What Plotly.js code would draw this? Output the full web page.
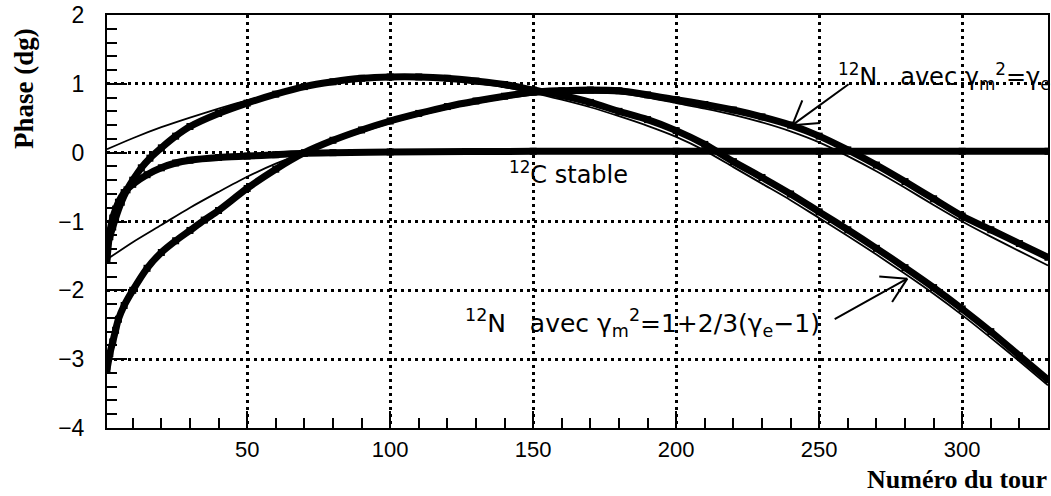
<!DOCTYPE html>
<html>
<head>
<meta charset="utf-8">
<script src="https://cdn.plot.ly/plotly-3.0.1.min.js"></script>
<style>html,body{margin:0;padding:0;background:#fff;}#chart{width:1051px;height:496px;}</style>
</head>
<body>
<div id="chart"></div>
<script>
// 12N with gamma_m^2 = 1 + 2/3(gamma_e - 1): simulation (thick) and fit (thin)
const xA = [1,2,3,4,6,8,10,13,16,20,25,30,40,50,60,70,80,90,100,110,120,130,140,150,160,170,180,190,200,210,220,230,240,250,260,270,280,290,300,310,320,330];
const yA = [-1.35,-1.22,-1.08,-0.95,-0.72,-0.54,-0.4,-0.22,-0.08,0.07,0.24,0.38,0.57,0.72,0.85,0.96,1.03,1.08,1.1,1.1,1.08,1.04,0.99,0.91,0.83,0.73,0.6,0.48,0.32,0.12,-0.13,-0.36,-0.6,-0.86,-1.12,-1.39,-1.67,-1.96,-2.27,-2.6,-2.95,-3.3];
const xAfit = [1,10,20,30,40,50,60,70,80,90,100,110,120,130,140,150,160,170,180,190,200,210,220,230,240,250,260,270,280,290,300,310,320,330];
const yAfit = [0.05,0.21,0.37,0.51,0.64,0.76,0.86,0.95,1.02,1.07,1.09,1.09,1.06,1.01,0.95,0.87,0.77,0.66,0.53,0.39,0.23,0.03,-0.21,-0.45,-0.69,-0.95,-1.21,-1.48,-1.76,-2.05,-2.36,-2.69,-3.03,-3.38];

// 12N with gamma_m^2 = gamma_e: simulation (thick) and fit (thin)
const xB = [1,2,3,4,5,7,10,15,20,25,30,35,40,50,60,70,80,90,100,110,120,130,140,150,160,170,180,190,200,210,220,230,240,250,260,270,280,290,300,310,320,330];
const yB = [-3.15,-2.92,-2.75,-2.58,-2.42,-2.22,-2.0,-1.68,-1.45,-1.28,-1.13,-0.98,-0.84,-0.52,-0.24,0.0,0.18,0.33,0.46,0.57,0.67,0.75,0.82,0.88,0.9,0.91,0.9,0.84,0.77,0.7,0.62,0.52,0.4,0.24,0.04,-0.18,-0.42,-0.67,-0.92,-1.12,-1.32,-1.52];
const xBfit = [1,10,20,30,40,50,60,70,80,90,100,110,120,130,140,150,160,170,180,190,200,210,220,230,240,250,260,270,280,290,300,310,320,330];
const yBfit = [-1.55,-1.3,-1.05,-0.8,-0.57,-0.35,-0.16,0.0,0.16,0.3,0.43,0.54,0.64,0.72,0.79,0.84,0.86,0.87,0.86,0.8,0.72,0.64,0.55,0.44,0.31,0.15,-0.05,-0.27,-0.51,-0.76,-1.0,-1.22,-1.43,-1.64];

// 12C stable
const xC = [1,2,3,4,5,7,10,15,20,25,30,40,50,60,70,80,100,150,200,250,300,330];
const yC = [-1.55,-1.15,-0.95,-0.82,-0.72,-0.58,-0.46,-0.32,-0.22,-0.15,-0.11,-0.07,-0.05,-0.03,-0.01,0.0,0.01,0.02,0.02,0.02,0.02,0.02];

const xTicks = [50,100,150,200,250,300];
const yTicks = [-4,-3,-2,-1,0,1,2];
const yTickText = ['\u22124','\u22123','\u22122','\u22121','0','1','2'];

const labelC = '<sup>12</sup>C stable';
const labelB = '<sup>12</sup>N\u00a0\u00a0\u00a0avec \u03b3<sub>m</sub><sup>2</sup>=\u03b3<sub>e</sub>';
const labelA = '<sup>12</sup>N\u00a0\u00a0\u00a0avec \u03b3<sub>m</sub><sup>2</sup>=1+2/3(\u03b3<sub>e</sub>\u22121)';
const xTitle = 'Numéro du tour';
const yTitle = 'Phase (dg)';

const thick = (x, y) => ({x: x, y: y, type: 'scatter', mode: 'lines+markers',
  line: {color: '#000', width: 7, shape: 'spline', smoothing: 0.8},
  marker: {symbol: 'square', size: 7, color: '#000'}, cliponaxis: true, hoverinfo: 'skip'});
const thin = (x, y) => ({x: x, y: y, type: 'scatter', mode: 'lines',
  line: {color: '#000', width: 1.8, shape: 'spline', smoothing: 0.8}, hoverinfo: 'skip'});

const data = [thin(xAfit, yAfit), thin(xBfit, yBfit), thick(xC, yC), thick(xA, yA), thick(xB, yB)];

const labelFont = {family: 'DejaVu Sans', size: 24, color: '#000'};
const titleFont = {family: 'Liberation Serif', size: 27, color: '#000', weight: 'bold'};

const wing = (x0, y0, x1, y1) => ({type: 'line', xref: 'x', yref: 'y', x0: x0, y0: y0, x1: x1, y1: y1,
  line: {color: '#000', width: 2}});

const layout = {
  width: 1051, height: 496,
  margin: {l: 107, r: 3, t: 15, b: 68},
  paper_bgcolor: '#fff', plot_bgcolor: '#fff',
  showlegend: false,
  xaxis: {
    range: [1, 330], tickvals: xTicks, ticktext: xTicks.map(String),
    ticks: 'inside', ticklen: 17, tickwidth: 2, tickcolor: '#000',
    showline: true, linecolor: '#000', linewidth: 2, mirror: true,
    showgrid: true, gridcolor: '#000', gridwidth: 3, griddash: '3px,4px',
    zeroline: false,
    minor: {dtick: 10, tick0: 0, ticks: 'inside', ticklen: 10, tickwidth: 2, tickcolor: '#000', showgrid: false},
    tickfont: {family: 'Liberation Sans', size: 22, color: '#000'},
    ticklabelstandoff: 1
  },
  yaxis: {
    range: [-4, 2], tickvals: yTicks, ticktext: yTickText,
    ticks: 'inside', ticklen: 20, tickwidth: 2, tickcolor: '#000',
    showline: true, linecolor: '#000', linewidth: 2, mirror: true,
    showgrid: true, gridcolor: '#000', gridwidth: 3, griddash: '3px,4px',
    zeroline: false,
    minor: {dtick: 0.2, tick0: 0, ticks: 'inside', ticklen: 10, tickwidth: 2, tickcolor: '#000', showgrid: false},
    tickfont: {family: 'Liberation Sans', size: 23, color: '#000'},
    ticklabelstandoff: 16
  },
  shapes: [
    wing(240.6, 0.40, 250.3, 0.43),
    wing(240.6, 0.40, 244.1, 0.76),
    wing(280.8, -1.83, 271.0, -1.80),
    wing(280.8, -1.83, 275.5, -2.17)
  ],
  annotations: [
    {xref: 'x', yref: 'y', x: 140.9, y: -0.3, xanchor: 'left', yanchor: 'middle', text: labelC, showarrow: false, font: labelFont},
    {xref: 'x', yref: 'y', x: 256, y: 1.11, xanchor: 'left', yanchor: 'middle', text: labelB, showarrow: false, font: labelFont},
    {xref: 'x', yref: 'y', x: 125.5, y: -2.47, xanchor: 'left', yanchor: 'middle', text: labelA, showarrow: false, font: {family: 'DejaVu Sans', size: 25, color: '#000'}},
    {xref: 'x', yref: 'y', x: 240.6, y: 0.40, axref: 'x', ayref: 'y', ax: 260.8, ay: 1.01, text: '', showarrow: true, arrowhead: 0, arrowwidth: 2, arrowcolor: '#000'},
    {xref: 'x', yref: 'y', x: 280.8, y: -1.83, axref: 'x', ayref: 'y', ax: 254.9, ay: -2.43, text: '', showarrow: true, arrowhead: 0, arrowwidth: 2, arrowcolor: '#000'},
    {xref: 'paper', yref: 'paper', x: 1, y: 0, xanchor: 'right', yanchor: 'bottom', yshift: -67, borderpad: 0, text: xTitle, showarrow: false, font: {family: 'Liberation Serif', size: 26, color: '#000', weight: 'bold'}},
    {xref: 'paper', yref: 'paper', x: 0, y: 1, xanchor: 'center', yanchor: 'middle', xshift: -83, yshift: -74, textangle: -90, text: yTitle, showarrow: false, font: titleFont}
  ]
};

Plotly.newPlot('chart', data, layout, {staticPlot: true, displayModeBar: false});
</script>
</body>
</html>
